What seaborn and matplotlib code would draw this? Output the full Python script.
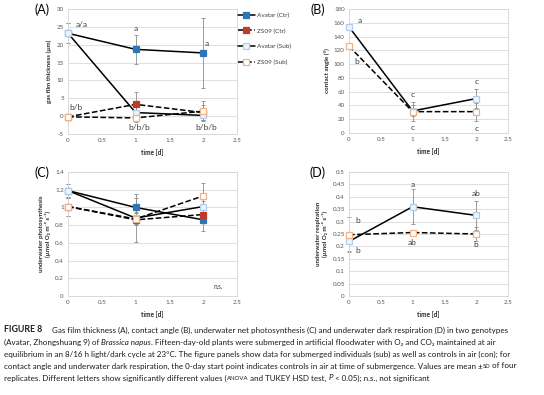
import numpy as np
import pandas as pd
import matplotlib
matplotlib.use("Agg")
import matplotlib.pyplot as plt
import seaborn as sns
from matplotlib.ticker import FuncFormatter, MultipleLocator

# ------------------------
# 1. Data
# ------------------------
days = [0, 1, 2]

gas_av_ctr = [23.2, 18.7, 17.7]
gas_av_ctr_sd = [2.8, 4.1, 9.8]
gas_zs_ctr = [-0.2, 3.3, 1.0]
gas_zs_ctr_sd = [0.4, 3.6, 2.0]
gas_av_sub = [23.2, 1.0, 0.2]
gas_av_sub_sd = [2.8, 1.5, 1.2]
gas_zs_sub = [-0.2, -0.5, 1.4]
gas_zs_sub_sd = [0.4, 1.0, 2.8]

ang_av_sub = [154, 32, 50]
ang_av_sub_sd = [0, 8, 14]
ang_zs_sub = [126, 31, 31]
ang_zs_sub_sd = [0, 14, 13]

ps_av_ctr = [1.19, 1.00, 0.86]
ps_av_ctr_sd = [0.08, 0.15, 0.13]
ps_zs_ctr = [1.01, 0.86, 0.92]
ps_zs_ctr_sd = [0.11, 0.25, 0.06]
ps_av_sub = [1.19, 0.88, 1.01]
ps_av_sub_sd = [0.08, 0.07, 0.06]
ps_zs_sub = [1.01, 0.87, 1.13]
ps_zs_sub_sd = [0.11, 0.07, 0.15]

resp_av_sub = [0.22, 0.36, 0.325]
resp_av_sub_sd = [0.04, 0.07, 0.06]
resp_zs_sub = [0.247, 0.256, 0.25]
resp_zs_sub_sd = [0.07, 0.01, 0.03]

# ------------------------
# 2. Style
# ------------------------
sns.set_style("white")
plt.rcParams["font.family"] = ["Lato", "DejaVu Sans"]

styles = {
    "Avatar (Ctr)": dict(ls="-", mfc="#2E75B6", mec="#2E75B6"),
    "ZS09 (Ctr)": dict(ls="--", mfc="#C0392B", mec="#C0392B"),
    "Avatar (Sub)": dict(ls="-", mfc="#EEF4FB", mec="#B4CDE8"),
    "ZS09 (Sub)": dict(ls="--", mfc="white", mec="#F4B183"),
}
txt_col = "#404040"
tick_col = "#595959"

fig = plt.figure(figsize=(5.44, 3.95), dpi=100)
W, H = 544, 395


def make_ax(l, t, r, b):
    return fig.add_axes([l / W, 1 - b / H, (r - l) / W, (b - t) / H])


def draw_series(ax, name, y, sd):
    st = styles[name]
    df = pd.DataFrame({"t": days, "v": y})
    sns.lineplot(data=df, x="t", y="v", ax=ax, color="black", lw=1.1,
                 linestyle=st["ls"], marker="s", markersize=5,
                 markerfacecolor=st["mfc"], markeredgecolor=st["mec"],
                 markeredgewidth=0.9, label=name, zorder=3, clip_on=False)
    ax.errorbar(days, y, yerr=sd, fmt="none", ecolor="#8C8C8C",
                elinewidth=0.6, capsize=1.5, capthick=0.6, zorder=2, clip_on=False)


def style_ax(ax, ylo, yhi, step, ylabel, letter, letter_dx):
    ax.set_xlim(0, 2.5)
    ax.set_ylim(ylo, yhi)
    ax.xaxis.set_major_locator(MultipleLocator(0.5))
    ax.yaxis.set_major_locator(MultipleLocator(step))
    fmt = FuncFormatter(lambda v, p: f"{round(v, 4):g}")
    ax.xaxis.set_major_formatter(fmt)
    ax.yaxis.set_major_formatter(fmt)
    ax.tick_params(labelsize=4.5, colors=tick_col, length=0, pad=3)
    ax.grid(axis="y", color="#D9D9D9", lw=0.6)
    ax.set_axisbelow(True)
    for s in ax.spines.values():
        s.set_color("#D9D9D9")
        s.set_linewidth(0.7)
    ax.set_xlabel("time [d]", fontsize=4.7, fontweight="bold", color="#262626", labelpad=4)
    ax.set_ylabel(ylabel, fontsize=4.5, fontweight="bold", color="#262626", labelpad=3)
    bb = ax.get_position()
    fig.text(bb.x0 - letter_dx / W, bb.y1 - 1 / H, letter, fontsize=9,
             ha="center", va="center", color="black")
    if ax.get_legend() is not None:
        ax.get_legend().remove()


def note(ax, x, y, s):
    ax.text(x, y, s, fontsize=6, color=txt_col, ha="center", va="center")


# ------------------------
# 3. Panels
# ------------------------
axA = make_ax(68, 9, 237, 134)
draw_series(axA, "Avatar (Ctr)", gas_av_ctr, gas_av_ctr_sd)
draw_series(axA, "ZS09 (Ctr)", gas_zs_ctr, gas_zs_ctr_sd)
draw_series(axA, "Avatar (Sub)", gas_av_sub, gas_av_sub_sd)
draw_series(axA, "ZS09 (Sub)", gas_zs_sub, gas_zs_sub_sd)
handles, labels = axA.get_legend_handles_labels()
style_ax(axA, -5, 30, 5, "gas film thickness (µm)", "(A)", 26)
note(axA, 0.2, 25.6, "a/a")
note(axA, 1.0, 24.5, "a")
note(axA, 2.05, 20.2, "a")
note(axA, 0.12, 2.5, "b/b")
note(axA, 1.05, -3.2, "b/b/b")
note(axA, 2.05, -3.2, "b/b/b")

axB = make_ax(349, 9, 508, 133)
draw_series(axB, "Avatar (Sub)", ang_av_sub, ang_av_sub_sd)
draw_series(axB, "ZS09 (Sub)", ang_zs_sub, ang_zs_sub_sd)
style_ax(axB, 0, 180, 20, "contact angle (°)", "(B)", 31)
note(axB, 0.17, 163, "a")
note(axB, 0.12, 104, "b")
note(axB, 1.0, 56, "c")
note(axB, 1.0, 8, "c")
note(axB, 2.0, 75, "c")
note(axB, 2.0, 7, "c")

axC = make_ax(68, 172, 237, 296)
draw_series(axC, "Avatar (Ctr)", ps_av_ctr, ps_av_ctr_sd)
draw_series(axC, "ZS09 (Ctr)", ps_zs_ctr, ps_zs_ctr_sd)
draw_series(axC, "Avatar (Sub)", ps_av_sub, ps_av_sub_sd)
draw_series(axC, "ZS09 (Sub)", ps_zs_sub, ps_zs_sub_sd)
style_ax(axC, 0, 1.4, 0.2, "underwater photosynthesis\n(µmol O₂ m⁻² s⁻¹)", "(C)", 26)
axC.text(2.22, 0.11, "n.s.", fontsize=4.7, color=txt_col, ha="center", va="center")

axD = make_ax(349, 172, 508, 296)
draw_series(axD, "Avatar (Sub)", resp_av_sub, resp_av_sub_sd)
draw_series(axD, "ZS09 (Sub)", resp_zs_sub, resp_zs_sub_sd)
style_ax(axD, 0, 0.5, 0.05, "underwater respiration\n(µmol O₂ m⁻² s⁻¹)", "(D)", 31)
note(axD, 1.0, 0.45, "a")
note(axD, 2.0, 0.413, "ab")
note(axD, 0.13, 0.306, "b")
note(axD, 0.13, 0.183, "b")
note(axD, 1.0, 0.215, "ab")
note(axD, 2.0, 0.206, "b")

fig.legend(handles, labels, loc="upper left", bbox_to_anchor=(238 / W, 1 - 12.5 / H),
           frameon=False, fontsize=4.6, handlelength=2.6, labelspacing=1.6,
           handletextpad=0.3, borderaxespad=0, borderpad=0, markerscale=0.75,
           labelcolor="#404040")

# ------------------------
# 4. Caption
# ------------------------
cap_lines = [
    [("FIGURE 8", "bold"), ("     Gas film thickness (A), contact angle (B), underwater net photosynthesis (C) and underwater dark respiration (D) in two genotypes", "normal")],
    [("(Avatar, Zhongshuang 9) of ", "normal"), ("Brassica napus", "italic"), (". Fifteen-day-old plants were submerged in artificial floodwater with O₂ and CO₂ maintained at air", "normal")],
    [("equilibrium in an 8/16 h light/dark cycle at 23°C. The figure panels show data for submerged individuals (sub) as well as controls in air (con); for", "normal")],
    [("contact angle and underwater dark respiration, the 0-day start point indicates controls in air at time of submergence. Values are mean ±", "normal"), ("SD", "small"), (" of four", "normal")],
    [("replicates. Different letters show significantly different values (", "normal"), ("ANOVA", "small"), (" and TUKEY HSD test, ", "normal"), ("P", "italic"), (" < 0.05); n.s., not significant", "normal")],
]
cap_y = [330, 342, 354, 366, 378]
fs = 5.75
renderer = fig.canvas.get_renderer()
for segs, yy in zip(cap_lines, cap_y):
    x = 4 / W
    for s, kind in segs:
        kw = dict(fontsize=fs, color="#1a1a1a", va="center", ha="left")
        if kind == "bold":
            kw.update(fontweight="bold", fontsize=6.3)
        elif kind == "italic":
            kw.update(fontstyle="italic")
        elif kind == "small":
            kw.update(fontsize=fs * 0.75)
        t = fig.text(x, 1 - yy / H, s, **kw)
        x += t.get_window_extent(renderer).width / W

fig.savefig("out.png", dpi=100)
